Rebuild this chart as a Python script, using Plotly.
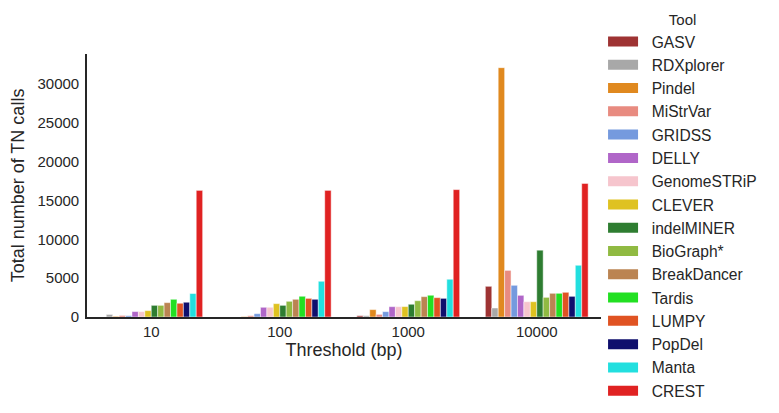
import plotly.graph_objects as go

thresholds = ["10", "100", "1000", "10000"]

tools = ["GASV", "RDXplorer", "Pindel", "MiStrVar", "GRIDSS", "DELLY", "GenomeSTRiP", "CLEVER",
         "indelMINER", "BioGraph*", "BreakDancer", "Tardis", "LUMPY", "PopDel", "Manta", "CREST"]

colors = ["#9e3333", "#a8a8a8", "#e0891f", "#e88b80", "#759ade", "#b066c8", "#f6c5cd", "#dfc221",
          "#2e7d31", "#90ba42", "#bb8452", "#22e022", "#e05322", "#0f0f6d", "#22dfdf", "#e02222"]

# TN calls per tool, one value per threshold (10, 100, 1000, 10000)
gasv = [0, 0, 170, 3950]
rdxplorer = [330, 0, 170, 1160]
pindel = [90, 60, 950, 32100]
mistrvar = [200, 170, 340, 6000]
gridss = [170, 430, 690, 4080]
delly = [700, 1250, 1330, 2790]
genomestrip = [690, 1250, 1330, 1970]
clever = [820, 1720, 1340, 1970]
indelminer = [1500, 1500, 1640, 8600]
biograph = [1500, 2020, 2100, 2530]
breakdancer = [1850, 2280, 2620, 3050]
tardis = [2280, 2670, 2800, 3050]
lumpy = [1770, 2400, 2490, 3180]
popdel = [1900, 2280, 2400, 2660]
manta = [3020, 4600, 4860, 6660]
crest = [16300, 16300, 16400, 17200]

values = [gasv, rdxplorer, pindel, mistrvar, gridss, delly, genomestrip, clever,
          indelminer, biograph, breakdancer, tardis, lumpy, popdel, manta, crest]

fig = go.Figure()
for name, col, vals in zip(tools, colors, values):
    fig.add_trace(go.Bar(x=thresholds, y=vals, name=name, marker_color=col, legendgroup=name,
                         showlegend=False,
                         marker_line=dict(color="rgba(255,255,255,0.6)", width=0.8)))
    # legend entry only: a thick line gives the wide seaborn-style patch
    fig.add_trace(go.Scatter(x=[None], y=[None], mode="lines", name="\u00a0\u00a0" + name,
                             legendgroup=name, line=dict(color=col, width=14)))

fig.update_layout(
    width=779, height=413,
    barmode="group", bargap=0.2, bargroupgap=0,
    plot_bgcolor="white", paper_bgcolor="white",
    font=dict(family="Liberation Sans, Arial", size=15, color="#262626"),
    margin=dict(l=79, r=186, t=46, b=104, autoexpand=False),
    legend=dict(title=dict(text="Tool", side="top center", font=dict(size=15)),
                x=1.004, xanchor="left", y=1.185, yanchor="top", maxheight=413,
                font=dict(size=15.6), itemwidth=30, tracegroupgap=0),
)
fig.update_xaxes(title_text="Threshold (bp)", title_font=dict(size=18), title_standoff=4,
                 showline=True, linecolor="#262626", linewidth=1.6, ticks="",
                 showgrid=False, tickfont=dict(size=15), automargin=False)
fig.update_yaxes(title_text="Total number of TN calls", title_font=dict(size=18), title_standoff=14,
                 range=[0, 33860], tickvals=[0, 5000, 10000, 15000, 20000, 25000, 30000],
                 tickformat="d", showline=True, linecolor="#262626", linewidth=1.6,
                 ticks="", showgrid=False, zeroline=False, tickfont=dict(size=15),
                 ticklabelstandoff=3, automargin=False)

fig.write_html("out.html")
